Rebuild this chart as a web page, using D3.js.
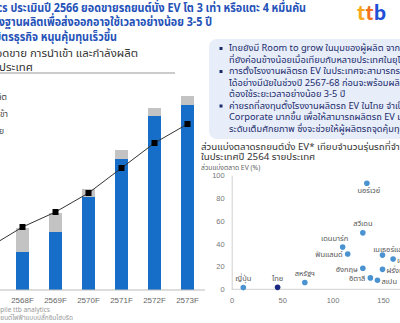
<!DOCTYPE html>
<html><head><meta charset="utf-8">
<script src="https://cdn.jsdelivr.net/npm/d3@7"></script>
<style>
html,body{margin:0;padding:0;background:#fff;overflow:hidden;}
svg{display:block;font-family:"Noto Sans Thai","Noto Sans","Liberation Sans",sans-serif;}
</style></head>
<body>
<svg id="c" width="400" height="323"></svg>
<script>
// ---- data ----
const years = ["2567","2568F","2569F","2570F","2571F","2572F","2573F"];
const production = [10, 38, 58, 93, 131, 174, 185];   // blue bars
const imports    = [35, 24, 19, 8, 9, 8, 9];          // grey bars
const sales      = [43, 63, 78, 97, 122, 147, 166];   // black line
const legendLabels = ["กำลังผลิต","การนำเข้า","ยอดขาย"];

const titleLines = [
  "ttb analytics ประเมินปี 2566 ยอดขายรถยนต์นั่ง EV โต 3 เท่า หรือแตะ 4 หมื่นคัน",
  "ขณะที่การตั้งฐานผลิตเพื่อส่งออกอาจใช้เวลาอย่างน้อย 3-5 ปี",
  "แนะหาพันธมิตรธุรกิจ หนุนคุ้มทุนเร็วขึ้น"
];
const subtitleLines = ["ยอดขาย การนำเข้า และกำลังผลิต","รถยนต์นั่ง EV ในประเทศ"];
const sourceLines = ["ที่มา: EV Volumes, Compile ttb analytics","หมายเหตุ: *รวมรถยนต์ไฟฟ้าแบบปลั๊กอินไฮบริด"];

const bullets = [
  ["ไทยยังมี Room to grow ในมุมของผู้ผลิต จากส่วนแบ่งตลาด EV","ที่ยังค่อนข้างน้อยเมื่อเทียบกับหลายประเทศในยุโรป"],
  ["การตั้งโรงงานผลิตรถ EV ในประเทศจะสามารถรองรับความต้องการ","ได้อย่างมีนัยในช่วงปี 2567-68 ก่อนจะพร้อมผลิตเพื่อส่งออก ซึ่ง","ต้องใช้ระยะเวลาอย่างน้อย 3-5 ปี"],
  ["ค่ายรถที่ลงทุนตั้งโรงงานผลิตรถ EV ในไทย จำเป็นต้องหาพันธมิตร","Corporate มากขึ้น เพื่อให้สามารถผลิตรถ EV มากขึ้นจนถึง","ระดับเต็มศักยภาพ ซึ่งจะช่วยให้ผู้ผลิตรถจุดคุ้มทุนเร็วขึ้น"]
];
const scatterTitle = ["ส่วนแบ่งตลาดรถยนต์นั่ง EV* เทียบจำนวนรุ่นรถที่จำหน่าย","ในประเทศปี 2564 รายประเทศ"];
const scatterYLabel = "ส่วนแบ่งตลาด EV (%)";
const countries = ["นอร์เวย์","สวีเดน","เดนมาร์ก","ฟินแลนด์","เนเธอร์แลนด์","เยอรมนี","อังกฤษ","ฝรั่งเศส","อิตาลี","สเปน","ญี่ปุ่น","ไทย","สหรัฐฯ"];
const models   = [134, 130, 110, 115, 149.5, 160, 130, 149.5, 137.5, 144.5, 11.5, 45.5, 72.5];
const evShare  = [93, 49.5, 37, 31, 30, 26.5, 18.5, 17.5, 10, 8, 1.5, 1.7, 6];
const labelPos = ["below","above","aboveleft","left","above","right","left","right","left","right","above","above","above"];
const yTicks = [0,20,40,60,80,100];
const xTicks = [0,50,100,150];

// ---- helpers ----
const svg = d3.select("#c");
function place(sel, x, y, k){ // position text with horizontal scale k
  sel.attr("x",0).attr("y",0).attr("transform",`translate(${x},${y}) scale(${k},1)`);
  return sel;
}

// title
svg.append("g").selectAll("text").data(titleLines).join("text")
  .each(function(d,i){ place(d3.select(this),[306,212,117][i],8+i*14.5,0.86); })
  .attr("text-anchor","end").attr("dominant-baseline","central")
  .attr("font-size",12.5).attr("font-weight","bold").attr("fill","#2451b8").text(d=>d);

// ttb logo
const logo = svg.append("text").attr("x",357).attr("y",20).attr("font-size",21)
  .attr("font-weight","900").attr("letter-spacing",0.5).attr("font-family","Lato, 'Open Sans', sans-serif");
logo.append("tspan").attr("fill","#f7a81b").text("t");
logo.append("tspan").attr("fill","#f2711f").text("t");
logo.append("tspan").attr("fill","#1f4fd6").text("b");

// subtitle
svg.append("g").selectAll("text").data(subtitleLines).join("text")
  .each(function(d,i){ place(d3.select(this),[138,33][i],54+i*13.5,1.04); })
  .attr("text-anchor","end").attr("dominant-baseline","central")
  .attr("font-size",11).attr("fill","#333").text(d=>d);
svg.append("line").attr("x1",0).attr("x2",175).attr("y1",73).attr("y2",73)
  .attr("stroke","#999").attr("stroke-width",1);

// legend (markers are off the page)
svg.append("g").selectAll("text").data(legendLabels).join("text")
  .attr("x",(d,i)=>[7,8,4][i]).attr("y",(d,i)=>97+i*17)
  .attr("text-anchor","end").attr("dominant-baseline","central")
  .attr("font-size",8.5).attr("fill","#444").text(d=>d);

// bar chart
const x = d3.scaleBand().domain(years).range([-27,204]).paddingInner(0.606).paddingOuter(0.303);
const y = d3.scaleLinear().domain([0,200]).range([290,90]);
const g = svg.append("g");
g.selectAll("rect.p").data(years).join("rect").attr("class","p")
  .attr("x",d=>x(d)).attr("width",x.bandwidth())
  .attr("y",(d,i)=>y(production[i])).attr("height",(d,i)=>y(0)-y(production[i]))
  .attr("fill","#176ec8");
g.selectAll("rect.m").data(years).join("rect").attr("class","m")
  .attr("x",d=>x(d)).attr("width",x.bandwidth())
  .attr("y",(d,i)=>y(production[i]+imports[i])).attr("height",(d,i)=>y(production[i])-y(production[i]+imports[i]))
  .attr("fill","#c3c3c3");
const xa = g.append("g").attr("transform","translate(0,290)").call(d3.axisBottom(x).tickSize(0).tickPadding(7));
xa.select(".domain").attr("stroke","#bbb").attr("d","M0,0H205");
xa.selectAll("text").attr("font-size",8).attr("fill","#666").attr("font-family","'Liberation Sans Narrow','Liberation Sans',sans-serif");
const line = d3.line().x((d,i)=>x(years[i])+x.bandwidth()/2).y(d=>y(d));
g.append("path").datum(sales).attr("d",line).attr("fill","none").attr("stroke","#333").attr("stroke-width",1);
g.selectAll("rect.s").data(sales).join("rect").attr("class","s")
  .attr("x",(d,i)=>x(years[i])+x.bandwidth()/2-3).attr("y",d=>y(d)-3)
  .attr("width",6).attr("height",6).attr("fill","#000");

// source
svg.append("g").selectAll("text").data(sourceLines).join("text")
  .attr("x",(d,i)=>[50,73][i]).attr("y",(d,i)=>310+i*7.5)
  .attr("text-anchor","end").attr("dominant-baseline","central")
  .attr("font-size",6.5).attr("fill","#999").text(d=>d);

// bullet box
svg.append("rect").attr("x",209).attr("y",39).attr("width",220).attr("height",100)
  .attr("rx",8).attr("fill","#e7eefa");
let row = 0;
const bg = svg.append("g");
bullets.forEach(b=>{
  b.forEach((t,j)=>{
    const yy = 48.5 + row*11.5;
    if(j===0) bg.append("rect").attr("x",219.5).attr("y",yy-1.5).attr("width",3).attr("height",3).attr("fill","#1b2a6b");
    place(bg.append("text"),229,yy,1.03).attr("dominant-baseline","central")
      .attr("font-size",9).attr("fill","#1b2a6b").text(t);
    row++;
  });
});

// scatter title
svg.append("g").selectAll("text").data(scatterTitle).join("text")
  .each(function(d,i){ place(d3.select(this),201,147.5+i*10,1.06); })
  .attr("dominant-baseline","central").attr("font-size",9.2).attr("fill","#333").text(d=>d);
svg.append("text").attr("x",201).attr("y",167.5).attr("dominant-baseline","central")
  .attr("font-size",6.8).attr("fill","#666").text(scatterYLabel);

// scatter
const sx = d3.scaleLinear().domain([0,150]).range([231.7,383]);
const sy = d3.scaleLinear().domain([0,100]).range([289.3,175.3]);
const sg = svg.append("g");
const ya = sg.append("g").attr("transform","translate(231.7,0)")
  .call(d3.axisLeft(sy).tickValues(yTicks).tickSize(0).tickPadding(7));
ya.select(".domain").attr("stroke","#d0d0d0");
ya.selectAll("text").attr("font-size",7.5).attr("fill","#777");
const xa2 = sg.append("g").attr("transform","translate(0,289.3)")
  .call(d3.axisBottom(sx).tickValues(xTicks).tickSize(0).tickPadding(8));
xa2.select(".domain").attr("stroke","#d0d0d0").attr("d","M231.7,0H420");
xa2.selectAll("text").attr("font-size",7.5).attr("fill","#777");

sg.selectAll("circle").data(countries).join("circle")
  .attr("cx",(d,i)=>sx(models[i])).attr("cy",(d,i)=>sy(evShare[i])).attr("r",2.8)
  .attr("fill",d=>d==="ไทย"?"#1b2a80":"#4a93d0");
sg.selectAll("text.lb").data(countries).join("text").attr("class","lb")
  .each(function(d,i){
    const cx = sx(models[i]), cy = sy(evShare[i]), p = labelPos[i];
    const t = d3.select(this).attr("font-size",7.5).attr("fill","#555").attr("dominant-baseline","central").text(d);
    if(p==="below") t.attr("x",cx+2).attr("y",cy+7).attr("text-anchor","middle");
    else if(p==="above") t.attr("x",cx+(d==="เนเธอร์แลนด์"?10:0)).attr("y",cy-(d==="เนเธอร์แลนด์"?6:9)).attr("text-anchor","middle");
    else if(p==="aboveleft") t.attr("x",cx-8).attr("y",cy-9).attr("text-anchor","middle");
    else if(p==="left") t.attr("x",cx-5).attr("y",cy+1).attr("text-anchor","end");
    else t.attr("x",cx+4).attr("y",cy+1).attr("text-anchor","start");
  });
</script>
</body></html>
